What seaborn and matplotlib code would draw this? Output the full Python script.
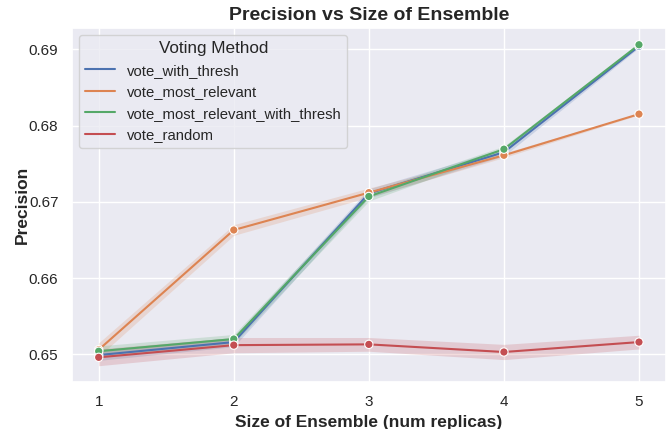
import pandas as pd
import matplotlib.pyplot as plt
import seaborn as sns

# Mean precision per ensemble size
sizes = [1, 2, 3, 4, 5]
methods = ["vote_with_thresh", "vote_most_relevant",
           "vote_most_relevant_with_thresh", "vote_random"]

vote_with_thresh = [0.6499, 0.6516, 0.6711, 0.6765, 0.6904]
vote_most_relevant = [0.6506, 0.6663, 0.6712, 0.6761, 0.6815]
vote_most_relevant_with_thresh = [0.6504, 0.6520, 0.6707, 0.6769, 0.6906]
vote_random = [0.6496, 0.6512, 0.6513, 0.6503, 0.6516]

# half width of the confidence band
ci_with_thresh = [0.0007, 0.0006, 0.0006, 0.0005, 0.0002]
ci_most_relevant = [0.0009, 0.0007, 0.0006, 0.0003, 0.0001]
ci_most_relevant_with_thresh = [0.0007, 0.0006, 0.0006, 0.0004, 0.0001]
ci_random = [0.0011, 0.0010, 0.0009, 0.0010, 0.0009]

means = [vote_with_thresh, vote_most_relevant, vote_most_relevant_with_thresh, vote_random]
cis = [ci_with_thresh, ci_most_relevant, ci_most_relevant_with_thresh, ci_random]

rows = []
for m, vals, ci in zip(methods, means, cis):
    for s, v, c in zip(sizes, vals, ci):
        rows.append({"size": s, "precision": v, "ci": c, "Voting Method": m})
df = pd.DataFrame(rows)

sns.set_theme(style="darkgrid")
plt.rcParams['font.family'] = ['Liberation Sans', 'DejaVu Sans']
palette = sns.color_palette("deep", 4)

fig, ax = plt.subplots(figsize=(6.7, 4.29), dpi=100)
fig.subplots_adjust(left=0.107, right=0.994, bottom=0.11, top=0.935)

sns.lineplot(data=df, x="size", y="precision", hue="Voting Method",
             palette=palette, errorbar=None, linewidth=1.5, ax=ax)
for m, col in zip(methods, palette):
    d = df[df["Voting Method"] == m]
    ax.fill_between(d["size"], d["precision"] - d["ci"], d["precision"] + d["ci"],
                    color=col, alpha=0.2, linewidth=0)
sns.scatterplot(data=df, x="size", y="precision", hue="Voting Method",
                palette=palette, s=36, edgecolor="white", linewidth=0.8,
                legend=False, ax=ax, zorder=3)

ax.set_xticks(sizes)
ax.set_title("Precision vs Size of Ensemble", fontsize=14, fontweight="bold")
ax.set_xlabel("Size of Ensemble (num replicas)", fontsize=12.5, fontweight="bold")
ax.set_ylabel("Precision", fontsize=12.5, fontweight="bold")
ax.yaxis.set_label_coords(-0.071, 0.5)
ax.tick_params(labelsize=11)

handles, labels = ax.get_legend_handles_labels()
leg = ax.legend(handles[:4], labels[:4], title="Voting Method", loc="upper left",
                fontsize=10.7, title_fontsize=12.3)

plt.savefig("out.png", dpi=100)
